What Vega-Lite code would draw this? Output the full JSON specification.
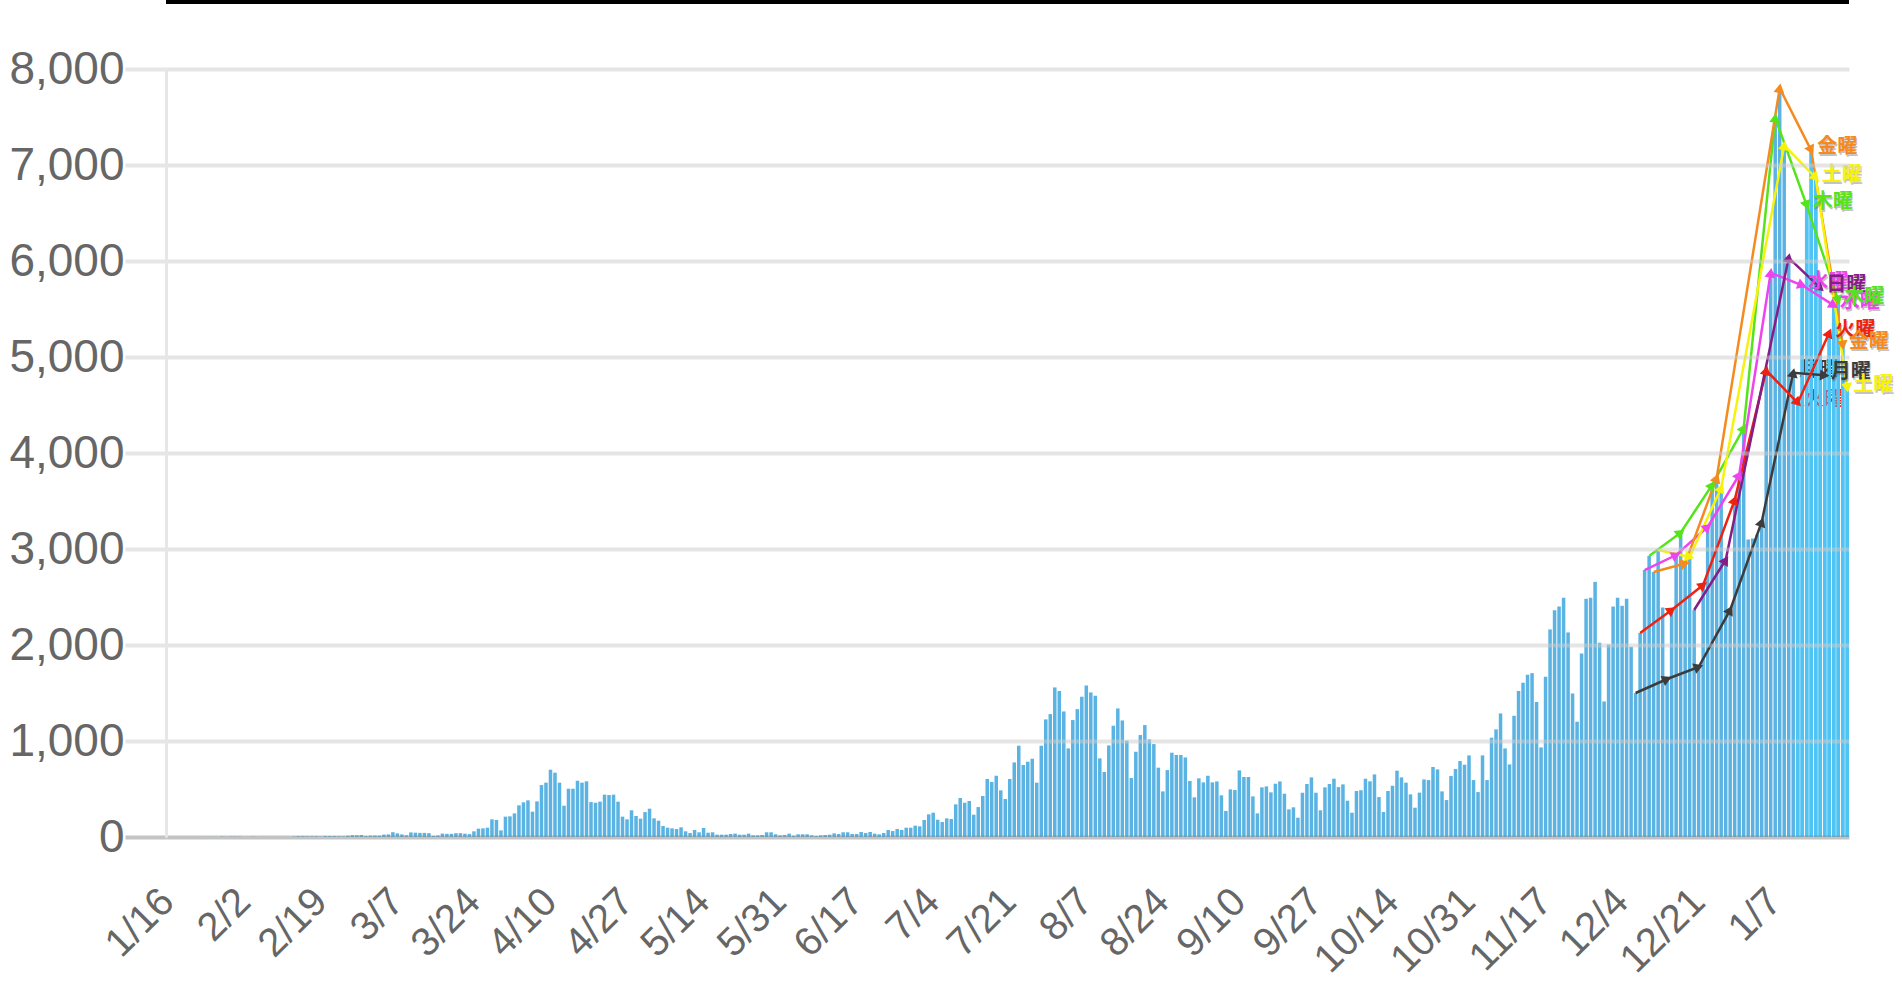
{
"$schema":"https://vega.github.io/schema/vega-lite/v6.json",
"width":1683,"height":768,
"autosize":{"type":"none"},
"padding":{"left":166,"top":69,"right":53,"bottom":155},
"background":"white",
"config":{"view":{"stroke":null}},
"datasets":{"main":[
{"d":"2020-01-16","n":1},{"d":"2020-01-17","n":0},{"d":"2020-01-18","n":0},{"d":"2020-01-19","n":0},{"d":"2020-01-20","n":0},{"d":"2020-01-21","n":0},{"d":"2020-01-22","n":0},{"d":"2020-01-23","n":0},{"d":"2020-01-24","n":1},{"d":"2020-01-25","n":1},{"d":"2020-01-26","n":1},{"d":"2020-01-27","n":0},{"d":"2020-01-28","n":3},{"d":"2020-01-29","n":1},{"d":"2020-01-30","n":3},{"d":"2020-01-31","n":2},
{"d":"2020-02-01","n":3},{"d":"2020-02-02","n":0},{"d":"2020-02-03","n":0},{"d":"2020-02-04","n":2},{"d":"2020-02-05","n":0},{"d":"2020-02-06","n":1},{"d":"2020-02-07","n":0},{"d":"2020-02-08","n":0},{"d":"2020-02-09","n":0},{"d":"2020-02-10","n":1},{"d":"2020-02-11","n":0},{"d":"2020-02-12","n":0},{"d":"2020-02-13","n":4},{"d":"2020-02-14","n":8},{"d":"2020-02-15","n":8},{"d":"2020-02-16","n":6},{"d":"2020-02-17","n":6},{"d":"2020-02-18","n":7},{"d":"2020-02-19","n":3},{"d":"2020-02-20","n":9},{"d":"2020-02-21","n":9},{"d":"2020-02-22","n":9},{"d":"2020-02-23","n":7},{"d":"2020-02-24","n":6},{"d":"2020-02-25","n":13},{"d":"2020-02-26","n":19},{"d":"2020-02-27","n":18},{"d":"2020-02-28","n":21},{"d":"2020-02-29","n":9},
{"d":"2020-03-01","n":14},{"d":"2020-03-02","n":15},{"d":"2020-03-03","n":14},{"d":"2020-03-04","n":25},{"d":"2020-03-05","n":27},{"d":"2020-03-06","n":50},{"d":"2020-03-07","n":38},{"d":"2020-03-08","n":27},{"d":"2020-03-09","n":18},{"d":"2020-03-10","n":48},{"d":"2020-03-11","n":45},{"d":"2020-03-12","n":43},{"d":"2020-03-13","n":43},{"d":"2020-03-14","n":40},{"d":"2020-03-15","n":12},{"d":"2020-03-16","n":16},{"d":"2020-03-17","n":36},{"d":"2020-03-18","n":33},{"d":"2020-03-19","n":33},{"d":"2020-03-20","n":40},{"d":"2020-03-21","n":40},{"d":"2020-03-22","n":35},{"d":"2020-03-23","n":30},{"d":"2020-03-24","n":59},{"d":"2020-03-25","n":87},{"d":"2020-03-26","n":90},{"d":"2020-03-27","n":97},{"d":"2020-03-28","n":184},{"d":"2020-03-29","n":177},{"d":"2020-03-30","n":69},{"d":"2020-03-31","n":212},
{"d":"2020-04-01","n":215},{"d":"2020-04-02","n":246},{"d":"2020-04-03","n":330},{"d":"2020-04-04","n":361},{"d":"2020-04-05","n":382},{"d":"2020-04-06","n":264},{"d":"2020-04-07","n":371},{"d":"2020-04-08","n":541},{"d":"2020-04-09","n":566},{"d":"2020-04-10","n":701},{"d":"2020-04-11","n":670},{"d":"2020-04-12","n":566},{"d":"2020-04-13","n":326},{"d":"2020-04-14","n":503},{"d":"2020-04-15","n":503},{"d":"2020-04-16","n":586},{"d":"2020-04-17","n":566},{"d":"2020-04-18","n":580},{"d":"2020-04-19","n":364},{"d":"2020-04-20","n":357},{"d":"2020-04-21","n":368},{"d":"2020-04-22","n":441},{"d":"2020-04-23","n":437},{"d":"2020-04-24","n":441},{"d":"2020-04-25","n":368},{"d":"2020-04-26","n":212},{"d":"2020-04-27","n":184},{"d":"2020-04-28","n":278},{"d":"2020-04-29","n":219},{"d":"2020-04-30","n":191},
{"d":"2020-05-01","n":260},{"d":"2020-05-02","n":295},{"d":"2020-05-03","n":194},{"d":"2020-05-04","n":170},{"d":"2020-05-05","n":115},{"d":"2020-05-06","n":97},{"d":"2020-05-07","n":90},{"d":"2020-05-08","n":83},{"d":"2020-05-09","n":101},{"d":"2020-05-10","n":59},{"d":"2020-05-11","n":42},{"d":"2020-05-12","n":73},{"d":"2020-05-13","n":49},{"d":"2020-05-14","n":94},{"d":"2020-05-15","n":45},{"d":"2020-05-16","n":49},{"d":"2020-05-17","n":24},{"d":"2020-05-18","n":24},{"d":"2020-05-19","n":24},{"d":"2020-05-20","n":31},{"d":"2020-05-21","n":35},{"d":"2020-05-22","n":24},{"d":"2020-05-23","n":24},{"d":"2020-05-24","n":35},{"d":"2020-05-25","n":17},{"d":"2020-05-26","n":17},{"d":"2020-05-27","n":21},{"d":"2020-05-28","n":49},{"d":"2020-05-29","n":49},{"d":"2020-05-30","n":28},{"d":"2020-05-31","n":17},
{"d":"2020-06-01","n":21},{"d":"2020-06-02","n":35},{"d":"2020-06-03","n":14},{"d":"2020-06-04","n":28},{"d":"2020-06-05","n":28},{"d":"2020-06-06","n":28},{"d":"2020-06-07","n":17},{"d":"2020-06-08","n":10},{"d":"2020-06-09","n":17},{"d":"2020-06-10","n":21},{"d":"2020-06-11","n":24},{"d":"2020-06-12","n":38},{"d":"2020-06-13","n":31},{"d":"2020-06-14","n":49},{"d":"2020-06-15","n":49},{"d":"2020-06-16","n":31},{"d":"2020-06-17","n":31},{"d":"2020-06-18","n":52},{"d":"2020-06-19","n":42},{"d":"2020-06-20","n":52},{"d":"2020-06-21","n":35},{"d":"2020-06-22","n":28},{"d":"2020-06-23","n":42},{"d":"2020-06-24","n":73},{"d":"2020-06-25","n":62},{"d":"2020-06-26","n":83},{"d":"2020-06-27","n":73},{"d":"2020-06-28","n":97},{"d":"2020-06-29","n":97},{"d":"2020-06-30","n":118},
{"d":"2020-07-01","n":111},{"d":"2020-07-02","n":177},{"d":"2020-07-03","n":236},{"d":"2020-07-04","n":253},{"d":"2020-07-05","n":180},{"d":"2020-07-06","n":156},{"d":"2020-07-07","n":194},{"d":"2020-07-08","n":187},{"d":"2020-07-09","n":340},{"d":"2020-07-10","n":406},{"d":"2020-07-11","n":357},{"d":"2020-07-12","n":375},{"d":"2020-07-13","n":232},{"d":"2020-07-14","n":312},{"d":"2020-07-15","n":427},{"d":"2020-07-16","n":604},{"d":"2020-07-17","n":573},{"d":"2020-07-18","n":638},{"d":"2020-07-19","n":486},{"d":"2020-07-20","n":396},{"d":"2020-07-21","n":604},{"d":"2020-07-22","n":777},{"d":"2020-07-23","n":951},{"d":"2020-07-24","n":750},{"d":"2020-07-25","n":784},{"d":"2020-07-26","n":815},{"d":"2020-07-27","n":566},{"d":"2020-07-28","n":951},{"d":"2020-07-29","n":1225},{"d":"2020-07-30","n":1280},{"d":"2020-07-31","n":1558},
{"d":"2020-08-01","n":1520},{"d":"2020-08-02","n":1308},{"d":"2020-08-03","n":923},{"d":"2020-08-04","n":1218},{"d":"2020-08-05","n":1332},{"d":"2020-08-06","n":1461},{"d":"2020-08-07","n":1579},{"d":"2020-08-08","n":1506},{"d":"2020-08-09","n":1471},{"d":"2020-08-10","n":819},{"d":"2020-08-11","n":677},{"d":"2020-08-12","n":954},{"d":"2020-08-13","n":1159},{"d":"2020-08-14","n":1339},{"d":"2020-08-15","n":1214},{"d":"2020-08-16","n":1003},{"d":"2020-08-17","n":614},{"d":"2020-08-18","n":888},{"d":"2020-08-19","n":1062},{"d":"2020-08-20","n":1166},{"d":"2020-08-21","n":1017},{"d":"2020-08-22","n":968},{"d":"2020-08-23","n":722},{"d":"2020-08-24","n":475},{"d":"2020-08-25","n":697},{"d":"2020-08-26","n":878},{"d":"2020-08-27","n":854},{"d":"2020-08-28","n":854},{"d":"2020-08-29","n":829},{"d":"2020-08-30","n":583},{"d":"2020-08-31","n":413},
{"d":"2020-09-01","n":611},{"d":"2020-09-02","n":569},{"d":"2020-09-03","n":638},{"d":"2020-09-04","n":569},{"d":"2020-09-05","n":579},{"d":"2020-09-06","n":434},{"d":"2020-09-07","n":271},{"d":"2020-09-08","n":496},{"d":"2020-09-09","n":489},{"d":"2020-09-10","n":694},{"d":"2020-09-11","n":625},{"d":"2020-09-12","n":625},{"d":"2020-09-13","n":423},{"d":"2020-09-14","n":246},{"d":"2020-09-15","n":517},{"d":"2020-09-16","n":527},{"d":"2020-09-17","n":465},{"d":"2020-09-18","n":555},{"d":"2020-09-19","n":579},{"d":"2020-09-20","n":451},{"d":"2020-09-21","n":288},{"d":"2020-09-22","n":309},{"d":"2020-09-23","n":201},{"d":"2020-09-24","n":461},{"d":"2020-09-25","n":552},{"d":"2020-09-26","n":621},{"d":"2020-09-27","n":461},{"d":"2020-09-28","n":278},{"d":"2020-09-29","n":517},{"d":"2020-09-30","n":552},
{"d":"2020-10-01","n":607},{"d":"2020-10-02","n":520},{"d":"2020-10-03","n":548},{"d":"2020-10-04","n":378},{"d":"2020-10-05","n":253},{"d":"2020-10-06","n":479},{"d":"2020-10-07","n":487},{"d":"2020-10-08","n":607},{"d":"2020-10-09","n":580},{"d":"2020-10-10","n":652},{"d":"2020-10-11","n":416},{"d":"2020-10-12","n":260},{"d":"2020-10-13","n":479},{"d":"2020-10-14","n":534},{"d":"2020-10-15","n":691},{"d":"2020-10-16","n":621},{"d":"2020-10-17","n":566},{"d":"2020-10-18","n":444},{"d":"2020-10-19","n":305},{"d":"2020-10-20","n":462},{"d":"2020-10-21","n":600},{"d":"2020-10-22","n":593},{"d":"2020-10-23","n":729},{"d":"2020-10-24","n":704},{"d":"2020-10-25","n":475},{"d":"2020-10-26","n":385},{"d":"2020-10-27","n":635},{"d":"2020-10-28","n":708},{"d":"2020-10-29","n":791},{"d":"2020-10-30","n":753},{"d":"2020-10-31","n":850},
{"d":"2020-11-01","n":593},{"d":"2020-11-02","n":468},{"d":"2020-11-03","n":850},{"d":"2020-11-04","n":593},{"d":"2020-11-05","n":1034},{"d":"2020-11-06","n":1121},{"d":"2020-11-07","n":1287},{"d":"2020-11-08","n":923},{"d":"2020-11-09","n":756},{"d":"2020-11-10","n":1263},{"d":"2020-11-11","n":1520},{"d":"2020-11-12","n":1607},{"d":"2020-11-13","n":1690},{"d":"2020-11-14","n":1707},{"d":"2020-11-15","n":1405},{"d":"2020-11-16","n":933},{"d":"2020-11-17","n":1669},{"d":"2020-11-18","n":2162},{"d":"2020-11-19","n":2363},{"d":"2020-11-20","n":2401},{"d":"2020-11-21","n":2491},{"d":"2020-11-22","n":2131},{"d":"2020-11-23","n":1496},{"d":"2020-11-24","n":1201},{"d":"2020-11-25","n":1912},{"d":"2020-11-26","n":2481},{"d":"2020-11-27","n":2491},{"d":"2020-11-28","n":2658},{"d":"2020-11-29","n":2023},{"d":"2020-11-30","n":1412},
{"d":"2020-12-01","n":2006},{"d":"2020-12-02","n":2401},{"d":"2020-12-03","n":2491},{"d":"2020-12-04","n":2408},{"d":"2020-12-05","n":2481},{"d":"2020-12-06","n":1981},{"d":"2020-12-07","n":1500,"wd":"月曜"},{"d":"2020-12-08","n":2125,"wd":"火曜"},{"d":"2020-12-09","n":2781,"wd":"水曜"},{"d":"2020-12-10","n":2927,"wd":"木曜"},{"d":"2020-12-11","n":2760,"wd":"金曜"},{"d":"2020-12-12","n":2990,"wd":"土曜"},{"d":"2020-12-13","n":2390},{"d":"2020-12-14","n":1646,"wd":"月曜"},{"d":"2020-12-15","n":2365,"wd":"火曜"},{"d":"2020-12-16","n":2937,"wd":"水曜"},{"d":"2020-12-17","n":3170,"wd":"木曜"},{"d":"2020-12-18","n":2850,"wd":"金曜"},{"d":"2020-12-19","n":2917,"wd":"土曜"},{"d":"2020-12-20","n":2365,"wd":"日曜"},{"d":"2020-12-21","n":1771,"wd":"月曜"},{"d":"2020-12-22","n":2625,"wd":"火曜"},{"d":"2020-12-23","n":3229,"wd":"水曜"},{"d":"2020-12-24","n":3667,"wd":"木曜"},{"d":"2020-12-25","n":3740,"wd":"金曜"},{"d":"2020-12-26","n":3635,"wd":"土曜"},{"d":"2020-12-27","n":2885,"wd":"日曜"},{"d":"2020-12-28","n":2365,"wd":"月曜"},{"d":"2020-12-29","n":3510,"wd":"火曜"},{"d":"2020-12-30","n":3771,"wd":"水曜"},{"d":"2020-12-31","n":4260,"wd":"木曜"},
{"d":"2021-01-01","n":3100},{"d":"2021-01-02","n":3110},{"d":"2021-01-03","n":3150},{"d":"2021-01-04","n":3281,"wd":"月曜"},{"d":"2021-01-05","n":4861,"wd":"火曜"},{"d":"2021-01-06","n":5877,"wd":"水曜"},{"d":"2021-01-07","n":7492,"wd":"木曜"},{"d":"2021-01-08","n":7800,"wd":"金曜"},{"d":"2021-01-09","n":7205,"wd":"土曜"},{"d":"2021-01-10","n":6033,"wd":"日曜"},{"d":"2021-01-11","n":4835,"wd":"月曜"},{"d":"2021-01-12","n":4522,"wd":"火曜"},{"d":"2021-01-13","n":5747,"wd":"水曜"},{"d":"2021-01-14","n":6580,"wd":"木曜"},{"d":"2021-01-15","n":7153,"wd":"金曜"},{"d":"2021-01-16","n":6867,"wd":"土曜"},{"d":"2021-01-17","n":5720,"wd":"日曜"},{"d":"2021-01-18","n":4809,"wd":"月曜"},{"d":"2021-01-19","n":5252,"wd":"火曜"},{"d":"2021-01-20","n":5538,"wd":"水曜"},{"d":"2021-01-21","n":5590,"wd":"木曜"},{"d":"2021-01-22","n":5121,"wd":"金曜"},{"d":"2021-01-23","n":4679,"wd":"土曜"}
]},
"layer":[
{"data":{"name":"main"},
 "mark":{"type":"bar"},
 "encoding":{
  "x":{"field":"d","type":"ordinal","sort":"ascending","scale":{"paddingInner":0.22,"paddingOuter":0},
   "axis":{"title":null,"domain":false,"ticks":false,"grid":false,"labelAngle":-45,"labelAlign":"right","labelBaseline":"middle","labelPadding":58,"labelOverlap":false,"labelBound":false,"labelFlush":false,"labelFont":"Liberation Sans","labelFontSize":40,"labelColor":"#666666",
    "labelExpr":"indexof(['2020-01-16','2020-02-02','2020-02-19','2020-03-07','2020-03-24','2020-04-10','2020-04-27','2020-05-14','2020-05-31','2020-06-17','2020-07-04','2020-07-21','2020-08-07','2020-08-24','2020-09-10','2020-09-27','2020-10-14','2020-10-31','2020-11-17','2020-12-04','2020-12-21','2021-01-07'], datum.value) >= 0 ? toNumber(slice(datum.value,5,7)) + '/' + toNumber(slice(datum.value,8,10)) : ''"}},
  "y":{"field":"n","type":"quantitative","scale":{"domain":[0,8000],"nice":false,"zero":true},
   "axis":{"title":null,"values":[0,1000,2000,3000,4000,5000,6000,7000,8000],"format":",d","labelFont":"Liberation Sans","labelFontSize":46,"labelColor":"#666666","labelPadding":1,
    "tickSize":41,"tickWidth":4,"tickColor":{"condition":{"test":"datum.value === 0","value":"#c4c4c4"},"value":"#e6e6e6"},
    "grid":true,"gridWidth":4,"gridOpacity":0.5,"gridColor":{"condition":{"test":"datum.value === 0","value":"#888888"},"value":"#cccccc"},
    "domainColor":"#e6e6e6","domainWidth":3,"zindex":1}},
  "color":{"condition":{"test":"datum.d >= '2021-01-12'","value":"#4ec3f4"},"value":"#5ab3e3"}}},
{"data":{"name":"main"},
 "transform":[{"filter":"datum.d == '2021-01-11' || datum.d == '2021-01-12'"}],
 "mark":{"type":"text","align":"left","baseline":"middle","dx":6,"dy":-3,"font":"Noto Sans CJK JP","fontWeight":"bold","fontSize":20},
 "encoding":{
  "x":{"field":"d","type":"ordinal"},
  "y":{"field":"n","type":"quantitative"},
  "text":{"field":"wd"},
  "color":{"field":"wd","type":"nominal","legend":null,"scale":{"domain":["月曜","火曜","水曜","木曜","金曜","土曜","日曜"],"range":["#3c3c3c","#ee2212","#ee44ee","#55e41c","#f58a1f","#f6f20c","#861c86"]}}}},
{"data":{"name":"main"},
 "transform":[{"filter":"datum.d >= '2021-01-12'"}],
 "mark":{"type":"bar"},
 "encoding":{
  "x":{"field":"d","type":"ordinal"},
  "y":{"field":"n","type":"quantitative"},
  "color":{"value":"#4ec3f4"}}},
{"data":{"name":"main"},
 "transform":[{"filter":"isValid(datum.wd)"}],
 "mark":{"type":"line","strokeWidth":2.5},
 "encoding":{
  "x":{"field":"d","type":"ordinal"},
  "y":{"field":"n","type":"quantitative"},
  "color":{"field":"wd","type":"nominal","legend":null}}},
{"data":{"name":"main"},
 "transform":[{"filter":"isValid(datum.wd)"},
  {"window":[{"op":"lag","field":"n","as":"pn"},{"op":"lag","field":"d","as":"pd"}],"groupby":["wd"],"sort":[{"field":"d","order":"ascending"}]},
  {"filter":"isValid(datum.pn)"},
  {"calculate":"atan2((toDate(datum.d) - toDate(datum.pd)) / 86400000 * 4.5, (datum.n - datum.pn) * 0.096) * 180 / PI","as":"ang"}],
 "mark":{"type":"point","shape":"triangle-up","filled":true,"size":120,"opacity":1},
 "encoding":{
  "x":{"field":"d","type":"ordinal"},
  "y":{"field":"n","type":"quantitative"},
  "color":{"field":"wd","type":"nominal","legend":null},
  "angle":{"field":"ang","type":"quantitative","scale":null}}},
{"data":{"name":"main"},
 "transform":[{"filter":"isValid(datum.wd) && datum.d >= '2021-01-13'"}],
 "mark":{"type":"text","align":"left","baseline":"middle","dx":7,"dy":-1,"font":"Noto Sans CJK JP","fontWeight":"bold","fontSize":20,"color":"#555555","opacity":0.35},
 "encoding":{
  "x":{"field":"d","type":"ordinal"},
  "y":{"field":"n","type":"quantitative"},
  "text":{"field":"wd"}}},
{"data":{"name":"main"},
 "transform":[{"filter":"isValid(datum.wd) && datum.d >= '2021-01-13'"}],
 "mark":{"type":"text","align":"left","baseline":"middle","dx":6,"dy":-3,"font":"Noto Sans CJK JP","fontWeight":"bold","fontSize":20},
 "encoding":{
  "x":{"field":"d","type":"ordinal"},
  "y":{"field":"n","type":"quantitative"},
  "text":{"field":"wd"},
  "color":{"field":"wd","type":"nominal","legend":null}}},
{"data":{"values":[{}]},
 "mark":{"type":"rule","color":"#000000","strokeWidth":4},
 "encoding":{"y":{"datum":8698,"type":"quantitative"}}}
]
}
